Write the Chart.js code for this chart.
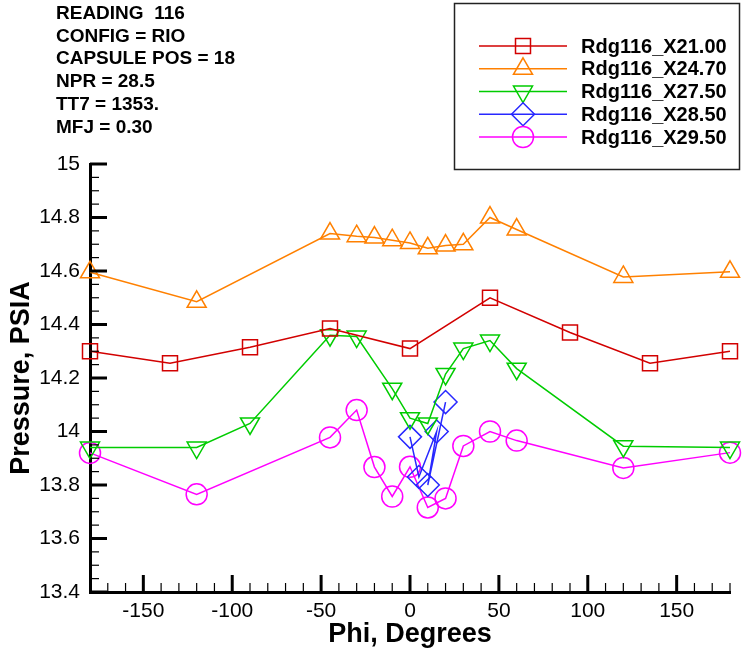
<!DOCTYPE html>
<html>
<head>
<meta charset="utf-8">
<script src="https://cdn.jsdelivr.net/npm/chart.js@4.4.0/dist/chart.umd.min.js"></script>
<style>
  body { margin: 0; background: #fff; }
  #wrap { width: 746px; height: 654px; }
</style>
</head>
<body>
<div id="wrap"><canvas id="pressureChart" width="746" height="654"></canvas></div>
<script>
// run notes printed top-left
const headerLines = ['READING  116', 'CONFIG = RIO', 'CAPSULE POS = 18', 'NPR = 28.5', 'TT7 = 1353.', 'MFJ = 0.30'];

// series names
const seriesNames = ['Rdg116_X21.00', 'Rdg116_X24.70', 'Rdg116_X27.50', 'Rdg116_X28.50', 'Rdg116_X29.50'];

// phi (deg) and pressure (psia)
const phiX21 = [-180, -135, -90, -45, 0, 45, 90, 135, 180];
const pX21   = [14.30, 14.255, 14.315, 14.385, 14.31, 14.50, 14.37, 14.255, 14.30];

const phiX247 = [-180, -120, -45, -30, -20, -10, 0, 10, 20, 30, 45, 60, 120, 180];
const pX247   = [14.595, 14.485, 14.74, 14.73, 14.725, 14.715, 14.705, 14.685, 14.695, 14.70, 14.80, 14.755, 14.578, 14.597];

const phiX275 = [-180, -120, -90, -45, -30, -10, 0, 10, 20, 30, 45, 60, 120, 180];
const pX275   = [13.94, 13.94, 14.03, 14.36, 14.355, 14.16, 14.05, 14.03, 14.215, 14.31, 14.34, 14.235, 13.945, 13.94];

const phiX285 = [0, 5, 15, 10, 20];
const pX285   = [13.98, 13.83, 14.00, 13.80, 14.11];

const phiX295 = [-180, -120, -45, -30, -20, -10, 0, 10, 20, 30, 45, 60, 120, 180];
const pX295   = [13.92, 13.765, 13.978, 14.08, 13.867, 13.757, 13.868, 13.716, 13.75, 13.946, 14.0, 13.966, 13.864, 13.921];

// axis ticks
const xTicks = [-150, -100, -50, 0, 50, 100, 150];
const yTicks = [13.4, 13.6, 13.8, 14, 14.2, 14.4, 14.6, 14.8, 15];
const yTickLabels = ['13.4', '13.6', '13.8', '14', '14.2', '14.4', '14.6', '14.8', '15'];

const FONT = "'Liberation Sans', Arial, sans-serif";

function toPoints(xs, ys) {
  return xs.map((x, i) => ({ x: x, y: ys[i] }));
}

// marker style per series
const styles = [
  { color: 'rgb(210,0,0)',   pointStyle: 'rect',     radius: 10.6, rotation: 0 },
  { color: 'rgb(255,128,0)', pointStyle: 'triangle', radius: 11,   rotation: 0 },
  { color: 'rgb(0,204,0)',   pointStyle: 'triangle', radius: 11,   rotation: 180 },
  { color: 'rgb(40,40,255)', pointStyle: 'rectRot',  radius: 11.5, rotation: 0 },
  { color: 'rgb(255,0,255)', pointStyle: 'circle',   radius: 10.5, rotation: 0 }
];

const seriesData = [
  toPoints(phiX21, pX21),
  toPoints(phiX247, pX247),
  toPoints(phiX275, pX275),
  toPoints(phiX285, pX285),
  toPoints(phiX295, pX295)
];

const datasets = seriesNames.map((name, i) => ({
  label: name,
  data: seriesData[i],
  borderColor: styles[i].color,
  borderWidth: 1.5,
  pointStyle: styles[i].pointStyle,
  pointRadius: styles[i].radius,
  pointRotation: styles[i].rotation,
  pointBorderColor: styles[i].color,
  pointBorderWidth: 1.5,
  pointBackgroundColor: 'rgba(0,0,0,0)',
  fill: false,
  tension: 0,
  clip: false
}));

// ticks that point into the plot, Tecplot style
const innerTicks = {
  id: 'innerTicks',
  afterDatasetsDraw(chart) {
    const { ctx, chartArea, scales: { x, y } } = chart;
    ctx.save();
    ctx.strokeStyle = '#000';
    for (let v = -180; v <= 180; v += 10) {
      const px = x.getPixelForValue(v);
      const major = v % 50 === 0;
      ctx.lineWidth = major ? 3 : 1.2;
      ctx.beginPath();
      ctx.moveTo(px, chartArea.bottom);
      ctx.lineTo(px, chartArea.bottom - (major ? 17 : 9));
      ctx.stroke();
    }
    for (let i = 0; i <= 32; i++) {
      const py = y.getPixelForValue(13.4 + i * 0.05);
      const major = i % 4 === 0;
      ctx.lineWidth = major ? 3 : 1.2;
      ctx.beginPath();
      ctx.moveTo(chartArea.left, py);
      ctx.lineTo(chartArea.left + (major ? 17 : 9), py);
      ctx.stroke();
    }
    ctx.restore();
  }
};

// header text + boxed legend
const notesAndLegend = {
  id: 'notesAndLegend',
  afterDraw(chart) {
    const ctx = chart.ctx;
    ctx.save();
    ctx.fillStyle = '#000';
    ctx.font = 'bold 19px ' + FONT;
    ctx.textAlign = 'left';
    ctx.textBaseline = 'alphabetic';
    headerLines.forEach((t, i) => ctx.fillText(t, 56, 19 + i * 22.7));

    // legend box
    ctx.strokeStyle = '#222';
    ctx.lineWidth = 1.5;
    ctx.strokeRect(454.5, 3.5, 285, 166);

    ctx.font = 'bold 20px ' + FONT;
    ctx.textBaseline = 'middle';
    chart.data.datasets.forEach((ds, i) => {
      const yy = 46 + i * 22.75;
      ctx.strokeStyle = ds.borderColor;
      ctx.lineWidth = 1.5;
      ctx.beginPath();
      ctx.moveTo(479, yy);
      ctx.lineTo(567, yy);
      ctx.stroke();
      ctx.fillStyle = 'rgba(0,0,0,0)';
      Chart.helpers.drawPoint(ctx, {
        pointStyle: ds.pointStyle,
        radius: ds.pointRadius,
        rotation: ds.pointRotation,
        borderWidth: 1.5
      }, 523, yy);
      ctx.fillStyle = '#000';
      ctx.fillText(ds.label, 581, yy + 1);
    });
    ctx.restore();
  }
};

const ctx = document.getElementById('pressureChart').getContext('2d');
new Chart(ctx, {
  type: 'line',
  data: { datasets: datasets },
  options: {
    responsive: false,
    devicePixelRatio: 1,
    animation: false,
    events: [],
    layout: { padding: { top: 164, right: 16, bottom: 0, left: 0 } },
    plugins: {
      legend: { display: false },
      tooltip: { enabled: false }
    },
    scales: {
      x: {
        type: 'linear',
        min: -180,
        max: 180,
        afterBuildTicks: scale => { scale.ticks = xTicks.map(v => ({ value: v })); },
        afterFit: scale => { scale.height = 62; },
        grid: { display: false, drawTicks: false, tickLength: 0 },
        border: { display: true, color: '#000', width: 3 },
        ticks: {
          autoSkip: false,
          maxRotation: 0,
          padding: 7,
          color: '#000',
          font: { family: FONT, size: 21 }
        },
        title: {
          display: true,
          text: 'Phi, Degrees',
          color: '#000',
          font: { family: FONT, size: 27, weight: 'bold' },
          padding: { top: 0, bottom: 3 }
        }
      },
      y: {
        type: 'linear',
        min: 13.4,
        max: 15,
        afterBuildTicks: scale => { scale.ticks = yTicks.map(v => ({ value: v })); },
        afterFit: scale => { scale.width = 90; },
        grid: { display: false, drawTicks: false, tickLength: 0 },
        border: { display: true, color: '#000', width: 3 },
        ticks: {
          autoSkip: false,
          padding: 10,
          color: '#000',
          font: { family: FONT, size: 21 },
          callback: (value, index) => yTickLabels[index]
        },
        title: {
          display: true,
          text: 'Pressure, PSIA',
          color: '#000',
          font: { family: FONT, size: 27, weight: 'bold' },
          padding: { top: 5, bottom: 0 }
        }
      }
    }
  },
  plugins: [innerTicks, notesAndLegend]
});
</script>
</body>
</html>
